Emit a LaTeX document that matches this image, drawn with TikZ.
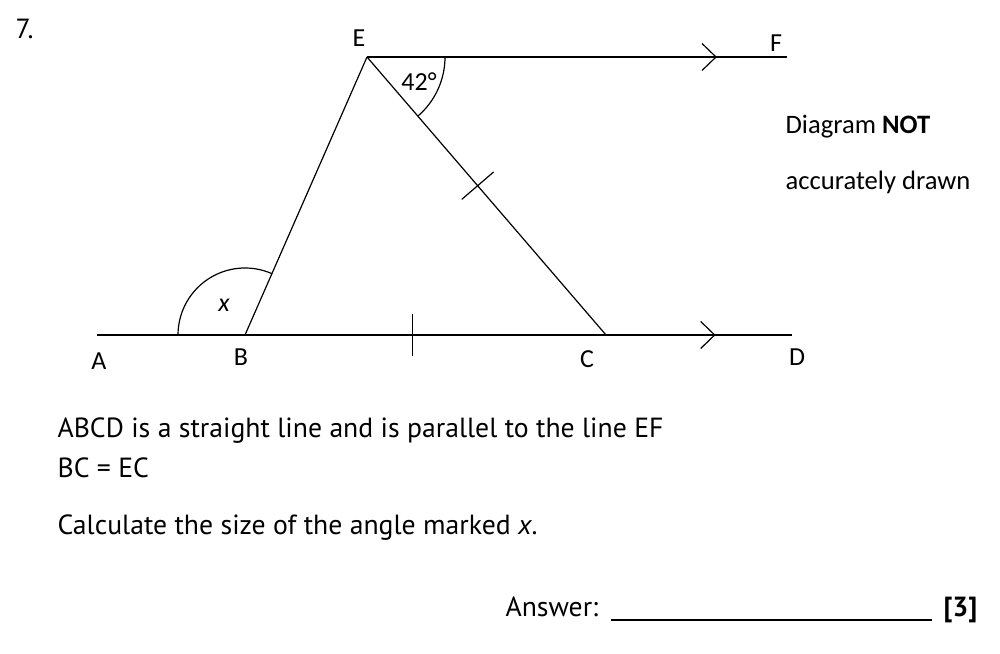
\documentclass[tikz,border=0pt]{standalone}
\usepackage{fontspec}
\setmainfont{Carlito}
\newfontfamily\questionfont{PT Sans}
\usetikzlibrary{arrows.meta,decorations.markings}
\tikzset{every scope/.style={line width=1.2pt}}
\tikzstyle{point_label} =
  [ font=\fontsize{26}{30}\selectfont
  , inner sep=0pt
  ]
\tikzstyle{note_text} =
  [ font=\fontsize{26.6}{30}\selectfont
  , anchor=base west
  , inner sep=0pt
  ]
\tikzstyle{question_text} =
  [ font=\questionfont\fontsize{27.7}{32}\selectfont
  , anchor=base west
  , inner sep=0pt
  ]
\tikzset{parallel_arrow/.style=
  { postaction={decorate}
  , decoration={markings, mark=at position #1 with {\arrow{Straight Barb[length=14pt,width=27pt,line width=1.2pt]}}}
  }}
\tikzset{equal_tick/.style=
  { postaction={decorate}
  , decoration={markings, mark=at position #1 with {\draw[line width=1.2pt] (0,-21pt) -- (0,21pt);}}
  }}
\def\QuestionNo{7.}
\def\StatementText{ABCD is a straight line and is parallel to the line EF}
\def\GivenText{BC = EC}
\def\TaskText{Calculate the size of the angle marked \textit{x}.}
\def\AnswerText{Answer:}
\def\MarksText{\textbf{[3]}}

\begin{document}
\begin{tikzpicture}[x=1pt,y=1pt]
    \useasboundingbox (0,0) rectangle (1000,653);

    \coordinate (A) at ( 97, 318);
    \coordinate (B) at (245, 318);
    \coordinate (C) at (606, 318);
    \coordinate (D) at (792, 318);
    \coordinate (E) at (367, 596);
    \coordinate (F) at (787, 596);

    \node[question_text]  (qno)    at ( 15, 614) {\QuestionNo};
    \node[point_label]    (lblE)   at (359, 615) {E};
    \node[point_label]    (lblF)   at (776, 610) {F};
    \node[point_label]    (lblA)   at ( 99, 292) {A};
    \node[point_label]    (lblB)   at (241, 296) {B};
    \node[point_label]    (lblC)   at (587, 294) {C};
    \node[point_label]    (lblD)   at (797, 296) {D};
    \node[point_label]    (lblx)   at (224, 348) {\textit{x}};
    \node[point_label]    (lbl42)  at (419, 571) {42°};
    \node[note_text]      (noteA)  at (785, 519) {Diagram \textbf{NOT}};
    \node[note_text]      (noteB)  at (785, 463) {accurately drawn};

    \draw[parallel_arrow=0.89]  (A) -- (D);
    \draw[parallel_arrow=0.833] (E) -- (F);
    \draw (B) -- (E);
    \draw[equal_tick=0.463] (E) -- (C);
    \path[equal_tick=0.465] (B) -- (C);

    \draw (B) ++(-67,0) arc[start angle=180, end angle=66.3, radius=67];
    \draw (E) ++(78,0)  arc[start angle=0, end angle=-49.3, radius=78];

    \node[question_text]  (stmt)   at ( 57, 215) {\StatementText};
    \node[question_text]  (given)  at ( 57, 175) {\GivenText};
    \node[question_text]  (task)   at ( 57, 118) {\TaskText};
    \node[question_text]  (answer) at (505,  37) {\AnswerText};
    \node[question_text]  (marks)  at (943,  37) {\MarksText};
    \coordinate (blankL) at (611, 33);
    \coordinate (blankR) at (932, 33);
    \draw[line width=1.8pt] (blankL) -- (blankR);
\end{tikzpicture}
\end{document}
